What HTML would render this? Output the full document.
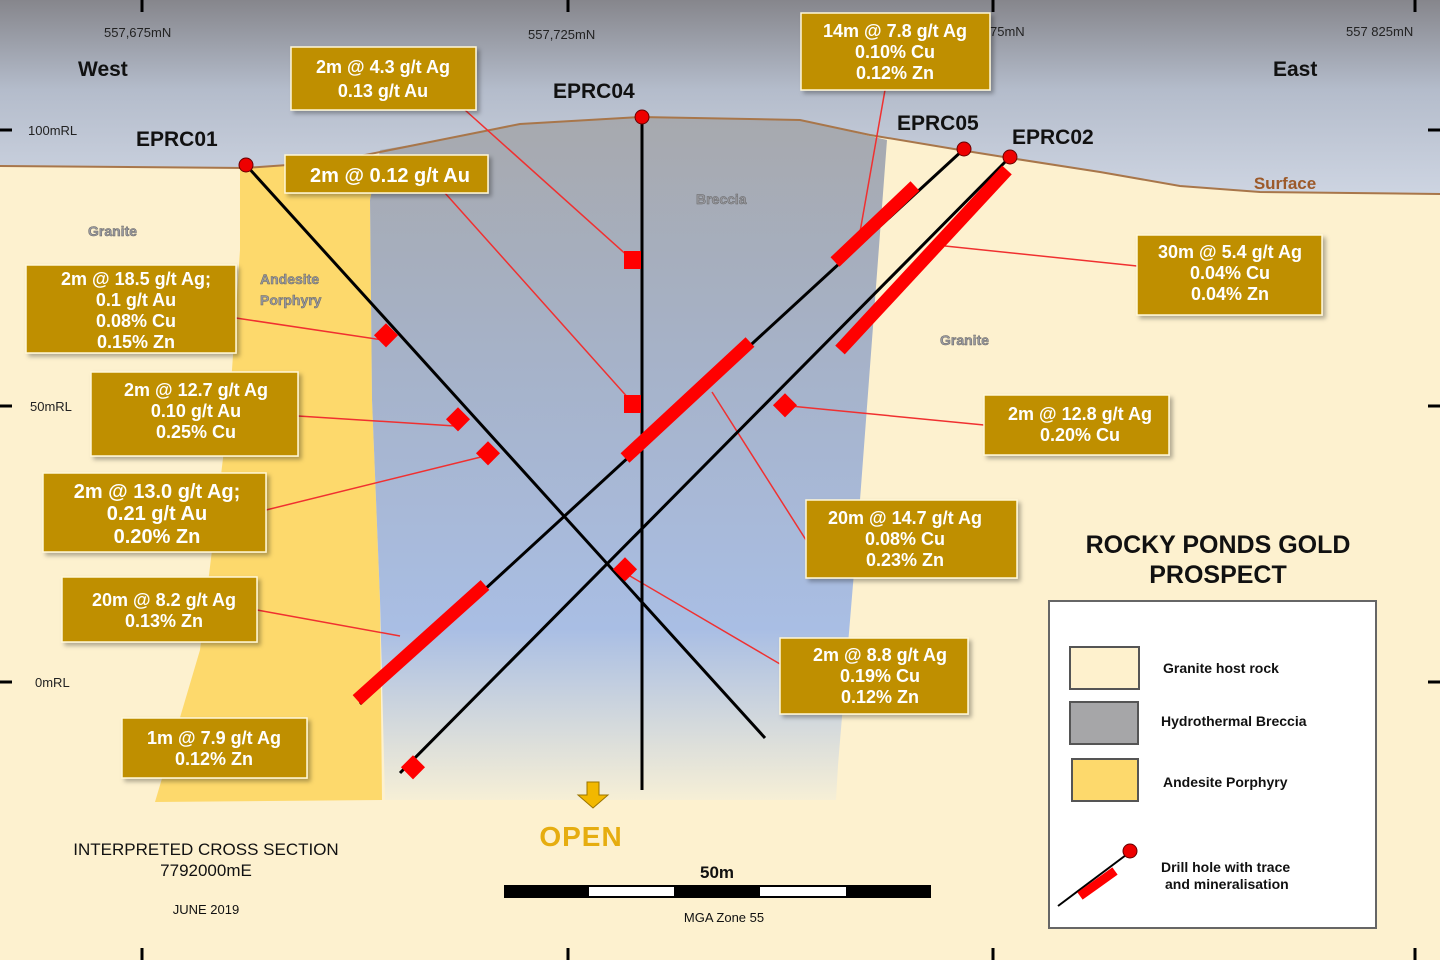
<!DOCTYPE html>
<html><head><meta charset="utf-8"><style>
html,body{margin:0;padding:0;width:1440px;height:960px;overflow:hidden;background:#fdf1cf}
svg{display:block;font-family:"Liberation Sans",sans-serif}
.lb{fill:#fff;font-weight:bold;font-size:18px;text-anchor:middle}
.bx{fill:#bf8f00;stroke:#fff7d8;stroke-width:1.5}
.ld{stroke:#f03030;stroke-width:1.5;fill:none}
.dh{stroke:#000;stroke-width:3;fill:none}
.mz{stroke:#ff0000;stroke-width:13;fill:none}
.hn{font-weight:bold;font-size:21px;fill:#111}
</style></head><body>
<svg width="1440" height="960" viewBox="0 0 1440 960">
<defs>
<linearGradient id="sky" x1="0" y1="0" x2="0" y2="1">
<stop offset="0" stop-color="#86868c"/><stop offset="0.45" stop-color="#b4bccb"/><stop offset="1" stop-color="#cfd6e3"/>
</linearGradient>
<linearGradient id="brc" x1="0" y1="0" x2="0" y2="1">
<stop offset="0" stop-color="#a7a9ae"/><stop offset="0.35" stop-color="#a6b2c8"/><stop offset="0.75" stop-color="#a9bee4"/><stop offset="1" stop-color="#f6efd6"/>
</linearGradient>
<filter id="sh" x="-5%" y="-5%" width="115%" height="120%"><feDropShadow dx="3" dy="3" stdDeviation="2" flood-color="#000" flood-opacity="0.3"/></filter>
</defs>
<rect width="1440" height="960" fill="#fdf1cf"/>
<rect width="1440" height="200" fill="url(#sky)"/>
<!-- ground -->
<path d="M0,166 L245,168 L330,162 L440,140 L520,124 L640,117 L800,120 L870,135 L960,150 L1010,158 L1100,172 L1180,186 L1260,192 L1440,194 L1440,960 L0,960 Z" fill="#fdf1cf"/>
<!-- andesite -->
<path d="M240,168 L330,162 L380,155 L370,200 L372,400 L380,600 L382,800 L155,802 L200,650 L230,400 L240,250 Z" fill="#fdd96c"/>
<!-- breccia -->
<path d="M370,200 L380,150 L440,140 L520,124 L640,117 L800,120 L887,140 L875,300 L860,500 L838,765 L836,800 L385,800 L380,600 L372,400 Z" fill="url(#brc)"/>
<!-- surface line -->
<path d="M0,166 L245,168 L330,162 L440,140 L520,124 L640,117 L800,120 L870,135 L960,150 L1010,158 L1100,172 L1180,186 L1260,192 L1440,194" fill="none" stroke="#a8764a" stroke-width="2"/>
<text x="1285" y="189" font-size="17" font-weight="bold" fill="#9c5a2a" text-anchor="middle">Surface</text>
<!-- ticks -->
<g stroke="#000" stroke-width="3">
<line x1="142" y1="0" x2="142" y2="12"/><line x1="568" y1="0" x2="568" y2="12"/><line x1="993" y1="0" x2="993" y2="12"/><line x1="1415" y1="0" x2="1415" y2="12"/>
<line x1="142" y1="948" x2="142" y2="960"/><line x1="568" y1="948" x2="568" y2="960"/><line x1="993" y1="948" x2="993" y2="960"/><line x1="1415" y1="948" x2="1415" y2="960"/>
<line x1="0" y1="130" x2="12" y2="130"/><line x1="0" y1="406" x2="12" y2="406"/><line x1="0" y1="682" x2="12" y2="682"/>
<line x1="1428" y1="130" x2="1440" y2="130"/><line x1="1428" y1="406" x2="1440" y2="406"/><line x1="1428" y1="682" x2="1440" y2="682"/>
</g>
<g font-size="13" fill="#222">
<text x="104" y="37">557,675mN</text><text x="528" y="39">557,725mN</text><text x="990" y="36">75mN</text><text x="1346" y="36">557 825mN</text>
<text x="28" y="135">100mRL</text><text x="30" y="411">50mRL</text><text x="35" y="687">0mRL</text>
</g>
<text x="78" y="76" font-size="21" font-weight="bold" fill="#111">West</text>
<text x="1273" y="76" font-size="21" font-weight="bold" fill="#111">East</text>
<g font-size="14" font-weight="bold" fill="#9a9aa0" stroke="#666" stroke-width="0.5">
<text x="88" y="236">Granite</text><text x="260" y="284">Andesite</text><text x="260" y="305">Porphyry</text>
<text x="696" y="204">Breccia</text><text x="940" y="345">Granite</text>
</g>
<!-- leaders -->
<g class="ld">
<line x1="465" y1="110" x2="630" y2="258"/><line x1="445" y1="193" x2="630" y2="400"/>
<line x1="885" y1="90" x2="860" y2="232"/><line x1="1137" y1="266" x2="945" y2="246"/>
<line x1="236" y1="318" x2="383" y2="340"/><line x1="298" y1="416" x2="455" y2="426"/>
<line x1="266" y1="510" x2="485" y2="456"/><line x1="257" y1="610" x2="400" y2="636"/>
<line x1="984" y1="425" x2="790" y2="406"/><line x1="806" y1="540" x2="712" y2="392"/>
<line x1="780" y1="664" x2="630" y2="576"/>
</g>
<!-- drill holes -->
<g class="dh">
<line x1="246" y1="165" x2="765" y2="738"/>
<line x1="642" y1="117" x2="642" y2="790"/>
<line x1="964" y1="149" x2="360" y2="704"/>
<line x1="1010" y1="157" x2="400" y2="773"/>
</g>
<g class="mz">
<line x1="915" y1="186" x2="835" y2="262"/><line x1="750" y1="342" x2="625" y2="458"/><line x1="485" y1="585" x2="357" y2="700"/>
<line x1="1007" y1="170" x2="840" y2="350"/>
</g>
<g fill="#ff0000">
<rect x="624" y="251" width="17" height="18"/><rect x="624" y="395" width="17" height="18"/>
<rect x="377" y="327" width="17" height="17" transform="rotate(45 386 336)"/>
<rect x="449" y="411" width="17" height="17" transform="rotate(45 458 420)"/>
<rect x="479" y="445" width="17" height="17" transform="rotate(45 488 454)"/>
<rect x="616" y="561" width="17" height="17" transform="rotate(45 625 570)"/>
<rect x="776" y="397" width="17" height="17" transform="rotate(45 785 406)"/>
<rect x="404" y="759" width="17" height="17" transform="rotate(45 413 768)"/>
</g>
<g fill="#e00" stroke="#600" stroke-width="1">
<circle cx="246" cy="165" r="7"/><circle cx="642" cy="117" r="7"/><circle cx="964" cy="149" r="7"/><circle cx="1010" cy="157" r="7"/>
</g>
<text x="136" y="146" class="hn">EPRC01</text><text x="553" y="98" class="hn">EPRC04</text>
<text x="897" y="130" class="hn">EPRC05</text><text x="1012" y="144" class="hn">EPRC02</text>
<!-- label boxes -->
<g filter="url(#sh)">
<rect class="bx" x="291" y="47" width="185" height="63"/>
<rect class="bx" x="285" y="155" width="203" height="38"/>
<rect class="bx" x="801" y="13" width="189" height="77"/>
<rect class="bx" x="1137" y="235" width="185" height="80"/>
<rect class="bx" x="26" y="265" width="210" height="88"/>
<rect class="bx" x="91" y="372" width="207" height="84"/>
<rect class="bx" x="43" y="473" width="223" height="79"/>
<rect class="bx" x="62" y="577" width="195" height="65"/>
<rect class="bx" x="122" y="718" width="185" height="60"/>
<rect class="bx" x="984" y="395" width="185" height="60"/>
<rect class="bx" x="806" y="500" width="211" height="78"/>
<rect class="bx" x="780" y="638" width="188" height="76"/>
</g>
<g class="lb">
<text x="383" y="73">2m @ 4.3 g/t Ag</text><text x="383" y="97">0.13 g/t Au</text>
<text x="390" y="182" font-size="20">2m @ 0.12 g/t Au</text>
<text x="895" y="37">14m @ 7.8 g/t Ag</text><text x="895" y="58">0.10% Cu</text><text x="895" y="79">0.12% Zn</text>
<text x="1230" y="258">30m @ 5.4 g/t Ag</text><text x="1230" y="279">0.04% Cu</text><text x="1230" y="300">0.04% Zn</text>
<text x="136" y="285">2m @ 18.5 g/t Ag;</text><text x="136" y="306">0.1 g/t Au</text><text x="136" y="327">0.08% Cu</text><text x="136" y="348">0.15% Zn</text>
<text x="196" y="396">2m @ 12.7 g/t Ag</text><text x="196" y="417">0.10 g/t Au</text><text x="196" y="438">0.25% Cu</text>
<text x="157" y="498" font-size="20">2m @ 13.0 g/t Ag;</text><text x="157" y="520" font-size="20">0.21 g/t Au</text><text x="157" y="543" font-size="20">0.20% Zn</text>
<text x="164" y="606">20m @ 8.2 g/t Ag</text><text x="164" y="627">0.13% Zn</text>
<text x="214" y="744">1m @ 7.9 g/t Ag</text><text x="214" y="765">0.12% Zn</text>
<text x="1080" y="420">2m @ 12.8 g/t Ag</text><text x="1080" y="441">0.20% Cu</text>
<text x="905" y="524">20m @ 14.7 g/t Ag</text><text x="905" y="545">0.08% Cu</text><text x="905" y="566">0.23% Zn</text>
<text x="880" y="661">2m @ 8.8 g/t Ag</text><text x="880" y="682">0.19% Cu</text><text x="880" y="703">0.12% Zn</text>
</g>
<!-- title -->
<text x="1218" y="553" font-size="25" font-weight="bold" fill="#111" text-anchor="middle">ROCKY PONDS GOLD</text>
<text x="1218" y="583" font-size="25" font-weight="bold" fill="#111" text-anchor="middle">PROSPECT</text>
<!-- legend -->
<rect x="1049" y="601" width="327" height="327" fill="#fff" stroke="#666" stroke-width="2"/>
<rect x="1070" y="647" width="69" height="42" fill="#fef1cd" stroke="#555" stroke-width="2"/>
<rect x="1070" y="702" width="68" height="42" fill="#a6a6a8" stroke="#555" stroke-width="2"/>
<rect x="1072" y="759" width="66" height="42" fill="#fdd96c" stroke="#555" stroke-width="2"/>
<g font-size="14" font-weight="bold" fill="#111">
<text x="1163" y="673">Granite host rock</text><text x="1161" y="726">Hydrothermal Breccia</text><text x="1163" y="787">Andesite Porphyry</text>
<text x="1161" y="872">Drill hole with trace</text><text x="1165" y="889">and mineralisation</text>
</g>
<line x1="1058" y1="906" x2="1130" y2="852" stroke="#000" stroke-width="2"/>
<line x1="1080" y1="896" x2="1115" y2="871" stroke="#f00" stroke-width="9"/>
<circle cx="1130" cy="851" r="7" fill="#e00" stroke="#600"/>
<!-- bottom -->
<text x="206" y="855" font-size="17" fill="#111" text-anchor="middle">INTERPRETED CROSS SECTION</text>
<text x="206" y="876" font-size="17" fill="#111" text-anchor="middle">7792000mE</text>
<text x="206" y="914" font-size="13" fill="#111" text-anchor="middle">JUNE 2019</text>
<path d="M587,782 L599,782 L599,795 L608,795 L593,808 L578,795 L587,795 Z" fill="#f2b800" stroke="#9a7400" stroke-width="1"/>
<text x="581" y="846" font-size="28" font-weight="bold" fill="#e6ad10" text-anchor="middle" letter-spacing="1">OPEN</text>
<text x="717" y="878" font-size="17" font-weight="bold" fill="#111" text-anchor="middle">50m</text>
<rect x="504" y="885" width="427" height="13" fill="#000"/>
<rect x="589" y="887" width="85" height="9" fill="#fff"/>
<rect x="760" y="887" width="86" height="9" fill="#fff"/>
<text x="724" y="922" font-size="13" fill="#111" text-anchor="middle">MGA Zone 55</text>
</svg>
</body></html>
